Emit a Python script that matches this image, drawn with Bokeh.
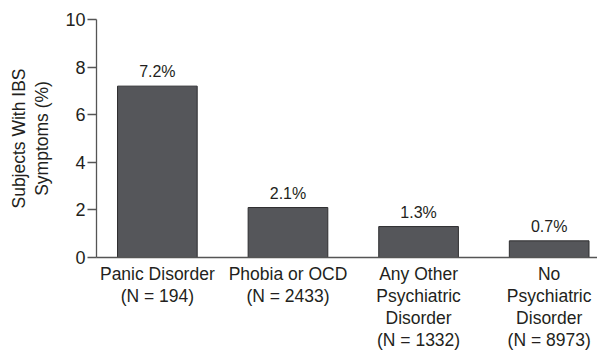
from bokeh.plotting import figure
from bokeh.models import ColumnDataSource, FixedTicker, Range1d
from bokeh.embed import file_html
from bokeh.resources import INLINE
from bokeh.core.properties import value

categories = ["Panic Disorder\n(N = 194)", "Phobia or OCD\n(N = 2433)",
              "Any Other\nPsychiatric\nDisorder\n(N = 1332)",
              "No\nPsychiatric\nDisorder\n(N = 8973)"]
percent = [7.2, 2.1, 1.3, 0.7]
labels = ["7.2%", "2.1%", "1.3%", "0.7%"]
y_ticks = [0, 2, 4, 6, 8, 10]

xs = [1, 2, 3, 4]
src = ColumnDataSource(dict(x=xs, top=percent, lab=labels))

FONT = "Liberation Sans"
TXT = "#231f20"

p = figure(width=597, height=352, output_backend="svg", toolbar_location=None,
           x_range=Range1d(0.534, 4.37), y_range=Range1d(0, 10),
           min_border_left=96, min_border_right=0, min_border_top=19, min_border_bottom=60)
p.outline_line_color = None
p.grid.grid_line_color = None
p.background_fill_color = "white"

p.vbar(x="x", top="top", width=0.61, source=src, fill_color="#55565a",
       line_color="#2e2e30", line_width=1)
p.text(x="x", y="top", text="lab", source=src, text_align="center",
       text_baseline="bottom", y_offset=-6, text_font=value(FONT),
       text_font_size="16px", text_color=TXT)

ax = p.xaxis[0]
ax.ticker = FixedTicker(ticks=xs)
ax.major_label_overrides = {x: c for x, c in zip(xs, categories)}
ax.major_tick_line_color = None
ax.minor_tick_line_color = None
ax.axis_line_color = "#555555"
ax.axis_line_width = 1.3
ax.major_label_text_font = FONT
ax.major_label_text_font_size = "17.5px"
ax.major_label_text_color = TXT
ax.major_label_text_line_height = 1.1
ax.major_label_standoff = 0

ay = p.yaxis[0]
ay.ticker = FixedTicker(ticks=y_ticks)
ay.minor_tick_line_color = None
ay.axis_line_color = "#555555"
ay.axis_line_width = 1.3
ay.major_tick_line_color = "#555555"
ay.major_tick_line_width = 1.3
ay.major_tick_out = 9
ay.major_tick_in = 0
ay.major_label_text_font = FONT
ay.major_label_text_font_size = "18px"
ay.major_label_text_color = TXT
ay.major_label_standoff = 2
ay.axis_label = "Subjects With IBS\nSymptoms (%)"
ay.axis_label_text_font = FONT
ay.axis_label_text_font_size = "17.5px"
ay.axis_label_text_font_style = "normal"
ay.axis_label_text_color = TXT
ay.axis_label_text_line_height = 1.15
ay.axis_label_standoff = 10

open("out.html", "w").write(file_html(p, INLINE))
